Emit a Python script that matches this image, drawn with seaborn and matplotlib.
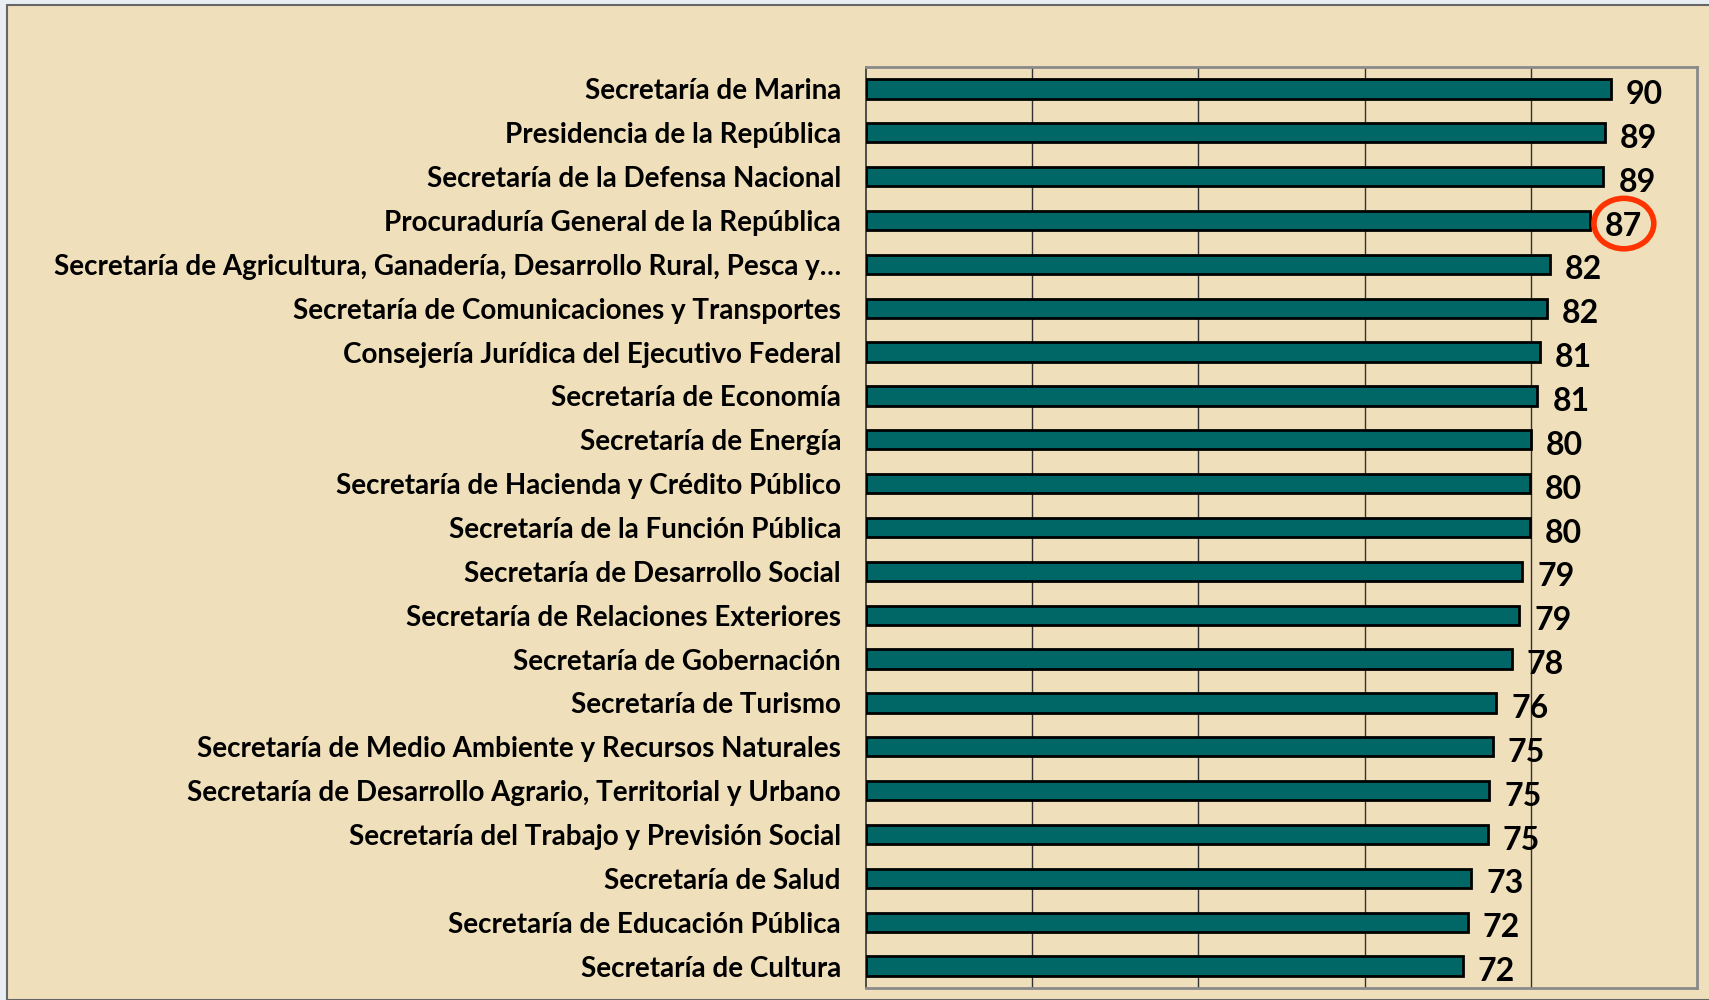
import numpy as np
import pandas as pd
import matplotlib
matplotlib.use('Agg')
import matplotlib.pyplot as plt
from matplotlib.patches import Ellipse, Rectangle
import seaborn as sns

sns.set_style('white')
plt.rcParams['font.family'] = ['Lato', 'DejaVu Sans']

dependencias = [
    'Secretaría de Marina',
    'Presidencia de la República',
    'Secretaría de la Defensa Nacional',
    'Procuraduría General de la República',
    'Secretaría de Agricultura, Ganadería, Desarrollo Rural, Pesca y…',
    'Secretaría de Comunicaciones y Transportes',
    'Consejería Jurídica del Ejecutivo Federal',
    'Secretaría de Economía',
    'Secretaría de Energía',
    'Secretaría de Hacienda y Crédito Público',
    'Secretaría de la Función Pública',
    'Secretaría de Desarrollo Social',
    'Secretaría de Relaciones Exteriores',
    'Secretaría de Gobernación',
    'Secretaría de Turismo',
    'Secretaría de Medio Ambiente y Recursos Naturales',
    'Secretaría de Desarrollo Agrario, Territorial y Urbano',
    'Secretaría del Trabajo y Previsión Social',
    'Secretaría de Salud',
    'Secretaría de Educación Pública',
    'Secretaría de Cultura',
]
calificacion = [89.6, 88.9, 88.7, 87.1, 82.3, 81.9, 81.1, 80.8, 80.0, 79.9, 79.9,
                79.0, 78.6, 77.7, 75.8, 75.4, 75.0, 74.8, 72.8, 72.4, 71.8]
etiquetas = ['90', '89', '89', '87', '82', '82', '81', '81', '80', '80', '80',
             '79', '79', '78', '76', '75', '75', '75', '73', '72', '72']
destacado = 'Procuraduría General de la República'

df = pd.DataFrame({'dependencia': dependencias, 'calificacion': calificacion})

papel = '#efdfba'
fig = plt.figure(figsize=(17.09, 10), dpi=100)
fig.patch.set_facecolor('#e9eef4')
fig.patches.append(Rectangle((7 / 1709, 0), 1.1, 1 - 5 / 1000, transform=fig.transFigure,
                             facecolor=papel, edgecolor='#666666', linewidth=1.5, zorder=-10))

ax = fig.add_axes([866 / 1709, 12 / 1000, (1697 - 866) / 1709, (988 - 67) / 1000])
ax.set_facecolor('none')

sns.barplot(data=df, x='calificacion', y='dependencia', orient='h', color='#006666',
            edgecolor='black', linewidth=2, width=0.44, saturation=1, ax=ax, zorder=3)

textos = ax.bar_label(ax.containers[0], labels=etiquetas, padding=11, fontsize=23,
                      color='black', fontweight='bold')
for t in textos:
    # bajar un poco las cifras, como en el original
    t.xyann = (t.xyann[0], -4)

ax.set_xlim(0, 100)
ax.set_ylim(len(dependencias) - 0.5, -0.5)
ax.set_xticks([20, 40, 60, 80])
ax.set_xticklabels([])
ax.tick_params(axis='x', length=0)
ax.grid(axis='x', color='#333333', linewidth=1, zorder=0)
ax.grid(axis='y', visible=False)
ax.set_xlabel('')
ax.set_ylabel('')

ax.tick_params(axis='y', which='major', length=0, pad=18, labelsize=20, labelcolor='black')
ax.set_yticks(np.arange(len(dependencias) + 1) - 0.5, minor=True)
ax.tick_params(axis='y', which='minor', length=5, width=1.2, color='#222222', direction='out')
for lbl in ax.get_yticklabels():
    lbl.set_fontweight('bold')

for lado in ['top', 'right', 'bottom']:
    ax.spines[lado].set_color('#8a8a8a')
    ax.spines[lado].set_linewidth(2)
ax.spines['left'].set_color('#333333')
ax.spines['left'].set_linewidth(1.2)

i = dependencias.index(destacado)
ax.add_patch(Ellipse((calificacion[i] + 4.1, i + 0.07), 7.2, 1.15, fill=False,
                     edgecolor='#ff3300', linewidth=4, zorder=5, clip_on=False))

plt.savefig('out.png', dpi=100)
